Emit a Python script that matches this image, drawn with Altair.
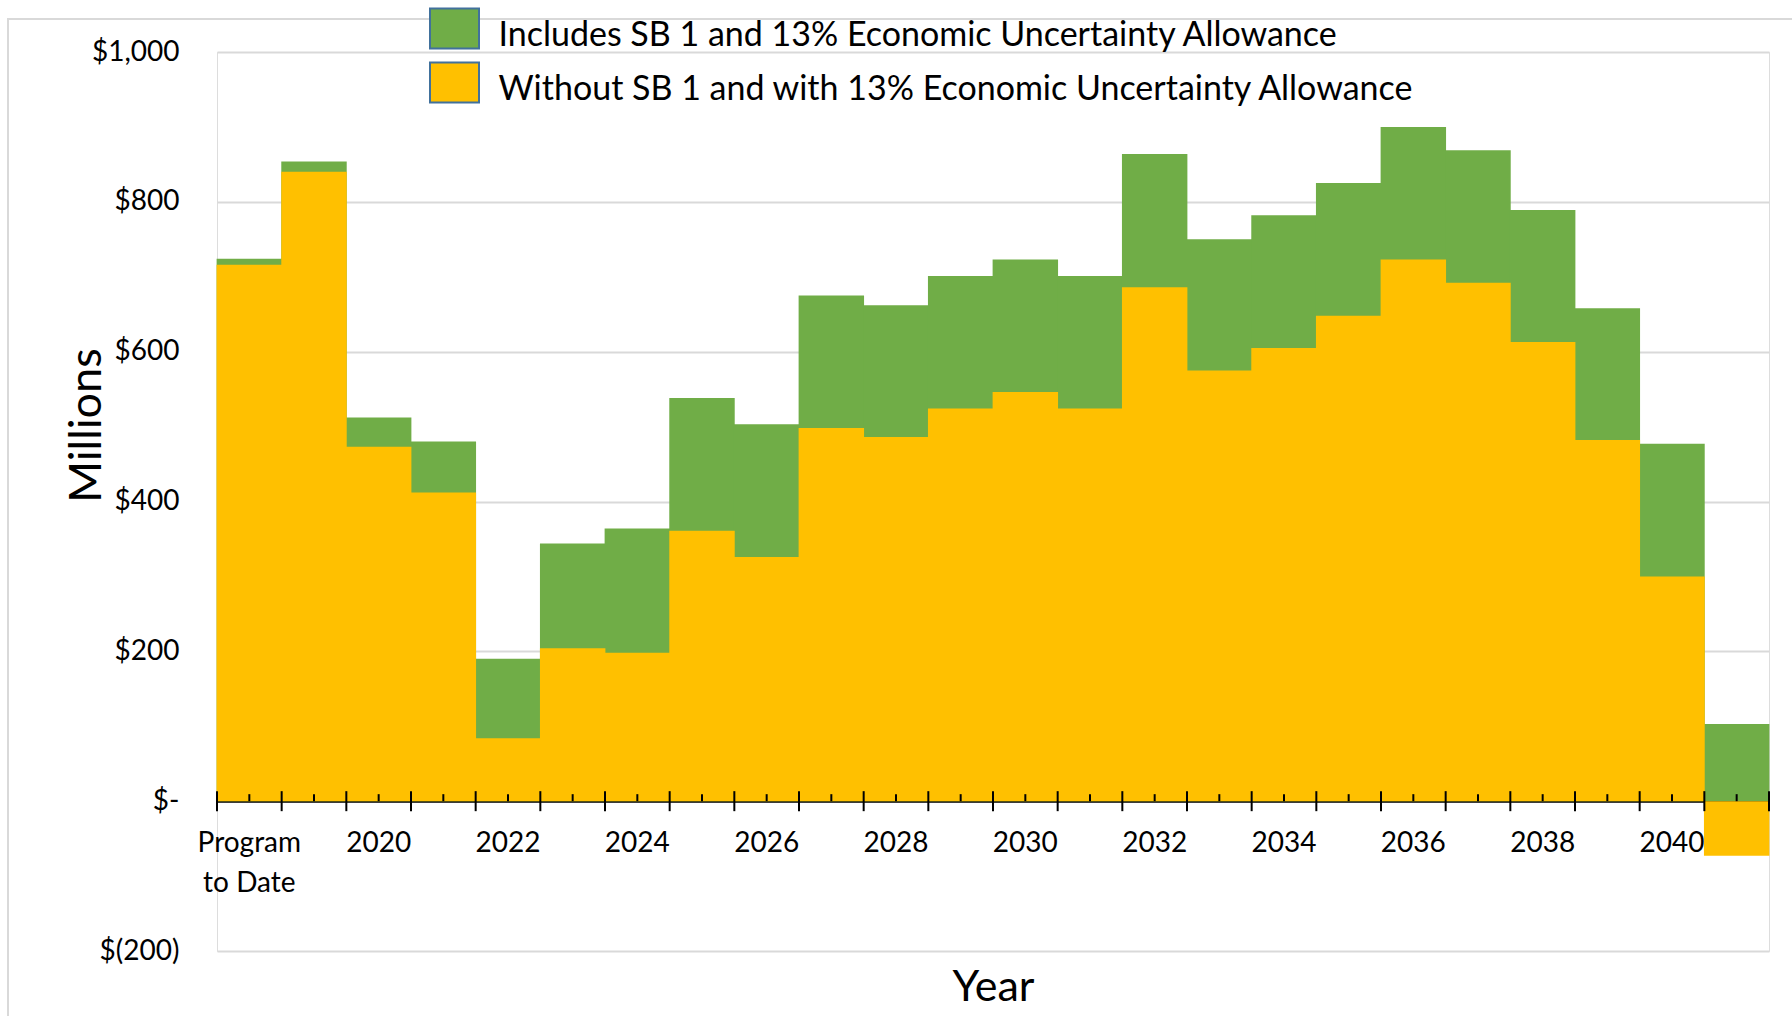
import altair as alt
import pandas as pd

periods = ["Program to Date"] + [str(y) for y in range(2019, 2042)]
with_sb1 = [724, 854, 512, 480, 190, 344, 364, 538, 503, 675, 662, 701, 723,
            701, 864, 750, 782, 825, 900, 869, 789, 658, 477, 103]
without_sb1 = [716, 840, 473, 412, 84, 204, 198, 361, 326, 498, 486, 524, 546,
               524, 686, 575, 605, 648, 723, 692, 613, 482, 300, -73]

s1 = "Includes SB 1 and 13% Economic Uncertainty Allowance"
s2 = "Without SB 1 and with 13% Economic Uncertainty Allowance"
y_ticks = [-200, 0, 200, 400, 600, 800, 1000]

rows = []
for p, v in zip(periods, with_sb1):
    rows.append({"period": p, "series": s1, "value": v})
for p, v in zip(periods, without_sb1):
    rows.append({"period": p, "series": s2, "value": v})
df = pd.DataFrame(rows)

W, H = 1552, 899
FONT = "Lato"

x_scale = alt.Scale(paddingInner=0, paddingOuter=0)
y_scale = alt.Scale(domain=[-200, 1000], nice=False, zero=False)

x_axis = alt.Axis(
    title="Year",
    labelExpr="datum.label == 'Program to Date' ? ['Program', 'to Date'] : "
              "(toNumber(datum.label) % 2 == 0 ? datum.label : '')",
    ticks=False, tickSize=0,
    domain=True, domainColor="black", domainWidth=2,
    offset=-H * 200 / 1200,
    labelPadding=28, labelFontSize=28, labelFont=FONT, labelColor="black",
    labelAngle=0, labelOverlap=False, labelLineHeight=40, labelBaseline="top",
    titleFontSize=43, titleFont=FONT, titleFontWeight="normal", titleColor="black",
    titleX=W / 2, titleY=199, titleAlign="center", titleBaseline="alphabetic",
)
y_axis = alt.Axis(
    title="Millions", values=y_ticks,
    labelExpr="datum.value == 0 ? '$-' : (datum.value < 0 ? '$(' + format(-datum.value, ',') + ')' "
              ": '$' + format(datum.value, ','))",
    domain=False, ticks=False, tickSize=0,
    grid=True, gridColor="#d9d9d9", gridWidth=2,
    labelPadding=38, labelFontSize=28, labelFont=FONT, labelColor="black",
    titleFontSize=45, titleFont=FONT, titleFontWeight="normal", titleColor="black",
    titleAngle=270, titleX=-117, titleY=373, titleAlign="center", titleBaseline="alphabetic",
)
legend = alt.Legend(
    title=None, orient="none", legendX=216.5, legendY=-37, direction="vertical",
    symbolType="M-1.225,-1.37L1.225,-1.37L1.225,0.63L-1.225,0.63Z", symbolSize=1600,
    symbolStrokeColor="#41719c", symbolStrokeWidth=2, symbolOpacity=1,
    labelFontSize=34, labelFont=FONT, labelColor="black", labelOffset=23,
    rowPadding=5, padding=0, labelLimit=1500,
)
color = alt.Color("series:N", scale=alt.Scale(domain=[s1, s2], range=["#70ad47", "#ffc000"]),
                  legend=legend)

X = alt.X("period:N", sort=periods, scale=x_scale, axis=x_axis)
Y = alt.Y("value:Q", scale=y_scale, axis=y_axis)

border = alt.Chart(alt.Data(values=[{"a": 1}])).mark_rect(
    filled=False, stroke="#d9d9d9", strokeWidth=2
).encode(x=alt.value(-209), x2=alt.value(W + 200), y=alt.value(-33), y2=alt.value(H + 200))

bar_w = alt.RelativeBandSize(1.012)
green = alt.Chart(df).transform_filter(alt.datum.series == s1).mark_bar(width=bar_w).encode(
    x=X, y=Y, color=color)
yellow = alt.Chart(df).transform_filter(alt.datum.series == s2).mark_bar(width=bar_w).encode(
    x=X, y=Y, color=color)

major = alt.Chart(df).transform_filter(alt.datum.series == s1).mark_rule(
    color="black", strokeWidth=2, yOffset=-10, y2Offset=10
).encode(x=alt.X("period:N", sort=periods, scale=x_scale, axis=x_axis, bandPosition=0),
         y=alt.datum(0), y2=alt.datum(0))
major_end = alt.Chart(df).transform_filter(
    (alt.datum.series == s1) & (alt.datum.period == periods[-1])
).mark_rule(color="black", strokeWidth=2, yOffset=-10, y2Offset=10).encode(
    x=alt.X("period:N", sort=periods, scale=x_scale, axis=x_axis, bandPosition=1),
    y=alt.datum(0), y2=alt.datum(0))
minor = alt.Chart(df).transform_filter(alt.datum.series == s1).mark_rule(
    color="black", strokeWidth=2, y2Offset=-7
).encode(x=alt.X("period:N", sort=periods, scale=x_scale, axis=x_axis, bandPosition=0.5),
         y=alt.datum(0), y2=alt.datum(0))

chart = alt.layer(border, green, yellow, major, major_end, minor).properties(
    width=W, height=H,
    autosize=alt.AutoSizeParams(type="none"),
    padding={"left": 217, "top": 52, "right": 23, "bottom": 65},
).configure_view(stroke=None).configure(background="white")

chart.save("out.html", embed_options={"renderer": "svg", "actions": False})
